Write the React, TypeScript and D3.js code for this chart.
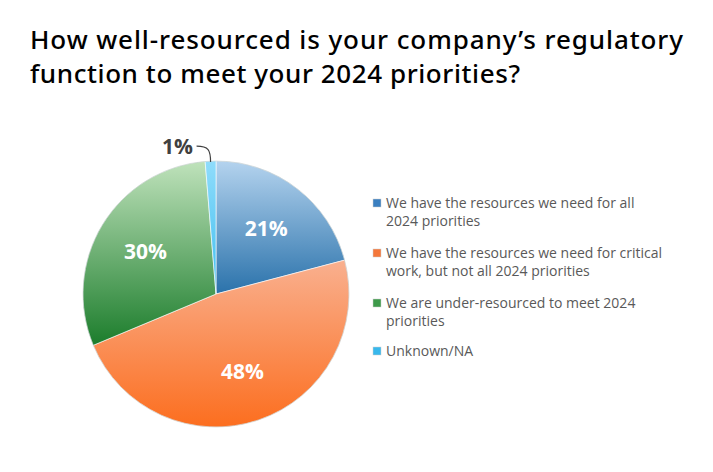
import React from "react";
import * as d3 from "d3";

const legendLines = [
  ["We have the resources we need for all", "2024 priorities"],
  ["We have the resources we need for critical", "work, but not all 2024 priorities"],
  ["We are under-resourced to meet 2024", "priorities"],
  ["Unknown/NA"],
];
const values = [20.9, 47.8, 30.0, 1.3];
const labels = ["21%", "48%", "30%", "1%"];
const titleLines = [
  "How well-resourced is your company’s regulatory",
  "function to meet your 2024 priorities?",
];
const colorsLight = ["#b4d3ee", "#f9b08f", "#bfe2bb", "#8fdcfb"];
const colorsDark = ["#2a72ab", "#fc6e1f", "#1c7d2c", "#3fbef0"];
const legendColors = ["#3a7fc0", "#f4773a", "#3e9a4a", "#38b8ec"];

export default function App() {
  const W = 713, H = 472;
  const cx = 216, cy = 294, r = 133;
  const pie = d3.pie<number>().sort(null).value((d) => d)(values);
  const arc = d3.arc<d3.PieArcDatum<number>>().innerRadius(0).outerRadius(r);
  const labelArc = d3.arc<d3.PieArcDatum<number>>().innerRadius(r * 0.62).outerRadius(r * 0.62);

  const legendY = [208, 258, 308, 356];
  const font = "'Open Sans', 'Noto Sans', sans-serif";
  const titleFont = "'Noto Sans', 'Open Sans', sans-serif";

  return (
    <svg width={W} height={H} style={{ position: "absolute", left: 0, top: 0, background: "#fff" }}>
      <defs>
        {pie.map((p, i) => {
          const pts: number[] = [0];
          const steps = 40;
          for (let k = 0; k <= steps; k++) {
            const a = p.startAngle + ((p.endAngle - p.startAngle) * k) / steps;
            pts.push(-Math.cos(a) * r);
          }
          const y1 = d3.min(pts)!;
          const y2 = d3.max(pts)!;
          return (
            <linearGradient key={i} id={`g${i}`} gradientUnits="userSpaceOnUse" x1={0} x2={0} y1={y1} y2={y2}>
              <stop offset="0%" stopColor={colorsLight[i]} />
              <stop offset="100%" stopColor={colorsDark[i]} />
            </linearGradient>
          );
        })}
      </defs>
      <text fontFamily={titleFont} fontSize={26} fontWeight={500} fill="#000">
        <tspan x={30} y={49} textLength={653} lengthAdjust="spacing">{titleLines[0]}</tspan>
        <tspan x={30} y={83} textLength={490} lengthAdjust="spacing">{titleLines[1]}</tspan>
      </text>
      <g transform={`translate(${cx},${cy})`}>
        {pie.map((p, i) => (
          <path key={i} d={arc(p)!} fill={`url(#g${i})`} stroke="#ffffff" strokeOpacity={0.6} strokeWidth={1} />
        ))}
        <circle r={r} fill="none" stroke="#8a9a9a" strokeOpacity={0.3} strokeWidth={1} />
        {pie.map((p, i) => {
          if (i === 3) return null;
          const [x, y] = labelArc.centroid(p);
          return (
            <text key={i} x={x} y={y} dy="0.35em" textAnchor="middle" fill="#fff" fontFamily={font} fontWeight={700} fontSize={21}>
              {labels[i]}
            </text>
          );
        })}
        {(() => {
          const p = pie[3];
          const a = (p.startAngle + p.endAngle) / 2;
          const ex = Math.sin(a) * r, ey = -Math.cos(a) * (r - 1);
          return (
            <g>
              <path d={`M${ex},${ey} C${ex},${ey - 12} ${ex - 2},${ey - 16} ${ex - 14},${ey - 16}`} fill="none" stroke="#404040" strokeWidth={1.2} />
              <text x={ex - 33} y={ey - 8} textAnchor="middle" fill="#404040" fontFamily={font} fontWeight={700} fontSize={21}>
                {labels[3]}
              </text>
            </g>
          );
        })()}
      </g>
      {legendLines.map((lines, i) => (
        <g key={i}>
          <rect x={373} y={legendY[i] - 9} width={8} height={8} fill={legendColors[i]} stroke="#cfcfcf" strokeWidth={0.5} />
          <text fontFamily={font} fontSize={14} fill="#595959">
            {lines.map((l, j) => (
              <tspan key={j} x={386} y={legendY[i] + j * 18}>{l}</tspan>
            ))}
          </text>
        </g>
      ))}
    </svg>
  );
}
